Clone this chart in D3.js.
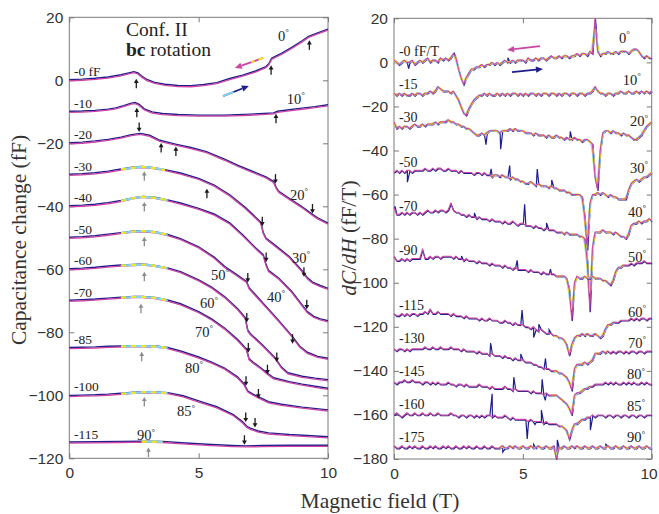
<!DOCTYPE html>
<html>
<head>
<meta charset="utf-8">
<title>Capacitance change and dC/dH, bc rotation</title>
<script src="https://cdn.jsdelivr.net/npm/d3@7"></script>
<style>
  body { margin: 0; background: #fff; }
  svg { display: block; }
  .tick text { font-family: "Liberation Sans", Arial, sans-serif; font-size: 15.5px; fill: #333; }
  .tick line { stroke: #7a7a7a; }
  .serif { font-family: "Liberation Serif", "Times New Roman", serif; fill: #222; }
</style>
</head>
<body>
<svg id="chart" width="659" height="514"></svg>
<script>
// ---- left panel: capacitance change (fF), [field T, C] ----
var angles = [0, 10, 20, 30, 40, 50, 60, 70, 80, 85, 90];
var leftOffsets = [0, -10, -20, -30, -40, -50, -60, -70, -85, -100, -115];
var leftOffsetText = ["-0 fF", "-10", "-20", "-30", "-40", "-50", "-60", "-70", "-85", "-100", "-115"];

var cap00 = [[0,0],[0.5,0.2],[1,0.5],[1.5,0.9],[2,1.6],[2.3,2.2],[2.5,2.6],[2.65,2.2],[2.8,1.2],[3,0.1],[3.3,-0.8],[3.7,-1.4],[4.2,-1.8],[4.7,-1.85],[5.2,-1.5],[5.7,-0.9],[6.2,0.4],[6.7,1.5],[7.2,2.8],[7.6,4.2],[7.72,5.2],[7.82,6.8],[8,7.6],[8.2,8.4],[8.6,10.3],[9,12.4],[9.25,13.8],[9.6,14.9],[10,16.1]];
var cap10 = [[0,-10],[0.5,-9.9],[1,-9.7],[1.5,-9.3],[1.8,-8.9],[2.1,-8.2],[2.4,-7.4],[2.55,-7.2],[2.7,-7.8],[2.9,-9.2],[3.2,-10.2],[3.6,-10.7],[4.2,-11.0],[5,-11.2],[6,-11.2],[7,-10.9],[7.9,-10.5],[8.05,-10.0],[8.5,-9.5],[9,-9.0],[9.5,-8.5],[10,-7.9]];
var cap20 = [[0,-20],[0.5,-19.8],[1,-19.4],[1.5,-18.9],[2,-18.2],[2.4,-17.4],[2.75,-17.0],[3.1,-17.6],[3.5,-19.2],[4.1,-20.4],[4.7,-21.5],[5.3,-22.8],[6,-25.2],[6.5,-27.1],[7,-28.8],[7.6,-30.8],[7.9,-32.3],[8.0,-34.2],[8.1,-35.4],[8.5,-37.6],[9,-40.3],[9.4,-42.7],[9.6,-43.8],[10,-45.5]];
var cap30 = [[0,-30],[0.5,-29.8],[1,-29.5],[1.5,-29],[2,-28.3],[2.5,-27.7],[2.8,-27.5],[3.2,-27.8],[3.7,-28.5],[4.3,-29.6],[5,-31.3],[5.6,-33.4],[6.2,-36.5],[6.8,-40.5],[7.2,-43.6],[7.4,-45.2],[7.5,-48.5],[7.6,-50.2],[8,-52.8],[8.5,-56.1],[9.0,-60.6],[9.2,-62.8],[9.4,-64.2],[9.7,-65.3],[10,-66.2]];
var cap40 = [[0,-40],[0.5,-39.8],[1,-39.5],[1.5,-39],[2,-38.3],[2.5,-37.4],[2.85,-37],[3.3,-37.3],[3.8,-38.1],[4.3,-39.1],[5,-40.8],[5.6,-42.6],[6.2,-45.4],[6.7,-49.2],[7.2,-53.3],[7.5,-55.6],[7.6,-58.5],[7.7,-60.5],[8.1,-63],[8.6,-67.2],[9.2,-73.6],[9.45,-75.1],[9.7,-75.9],[10,-76.5]];
var cap50 = [[0,-50],[0.5,-49.8],[1,-49.5],[1.5,-49],[2,-48.5],[2.5,-48],[2.85,-47.9],[3.3,-48.2],[3.8,-49.1],[4.3,-50.4],[5,-53],[5.6,-56.3],[6.0,-59.2],[6.5,-62],[6.85,-64],[6.95,-66],[7.5,-71],[8,-75.5],[8.6,-81.2],[8.9,-84.5],[9.2,-86.5],[9.6,-87.8],[10,-88.4]];
var cap60 = [[0,-60],[0.5,-59.8],[1,-59.5],[1.5,-59.1],[2,-58.8],[2.5,-58.6],[2.85,-58.5],[3.3,-58.9],[3.8,-59.7],[4.3,-60.9],[5,-63.5],[5.5,-65.8],[6,-68.8],[6.5,-72.6],[6.8,-75.5],[6.9,-79.5],[7.0,-80.6],[7.5,-84.4],[7.95,-88.2],[8.2,-91.2],[8.45,-93],[9,-94.1],[9.5,-94.7],[10,-95.2]];
var cap70 = [[0,-70],[0.5,-69.8],[1,-69.6],[1.5,-69.3],[2,-69],[2.5,-68.8],[2.85,-68.8],[3.3,-69.1],[3.8,-69.9],[4.3,-71.1],[5,-73.6],[5.5,-75.9],[6,-78.8],[6.5,-82.4],[6.85,-85.5],[6.95,-88.6],[7.1,-89.6],[7.4,-91.4],[7.7,-93.4],[7.9,-94.6],[8.5,-95.8],[9,-96.6],[9.5,-97.3],[10,-97.9]];
var cap80 = [[0,-85],[0.5,-84.9],[1,-84.8],[1.5,-84.6],[2,-84.5],[2.5,-84.4],[2.9,-84.4],[3.4,-84.6],[3.8,-85],[4.3,-86.1],[5,-88],[5.5,-89.6],[6,-91.5],[6.5,-94.3],[6.75,-96.5],[6.9,-98.8],[7.1,-99.8],[7.4,-101],[7.7,-102.2],[8.2,-103],[9,-103.9],[10,-104.8]];
var cap85 = [[0,-100.2],[0.5,-100.1],[1,-100],[1.5,-99.8],[2,-99.5],[2.5,-99.2],[2.9,-99],[3.4,-99.1],[3.8,-99.3],[4.4,-100.3],[5.06,-102.1],[5.7,-103.8],[6.34,-106.3],[6.7,-108.6],[6.86,-110],[7.0,-110.6],[7.3,-111.5],[7.7,-112.1],[8.5,-112.6],[9.2,-112.9],[10,-113.3]];
var cap90 = [[0,-115],[1,-114.9],[2,-114.8],[2.8,-114.7],[3.6,-114.8],[4.5,-115.3],[5.5,-115.8],[6.3,-116.1],[6.8,-116.2],[7.5,-116.1],[8.5,-116],[10,-116]];
var leftCurves = [cap00, cap10, cap20, cap30, cap40, cap50, cap60, cap70, cap80, cap85, cap90];
var leftFitRange = [null, null, null, [1.8,3.8], [1.8,3.8], [1.8,3.8], [1.8,3.8], [1.8,3.8], [1.8,3.8], [1.8,3.8], [2.2,4.1]];

// feature arrows [field, C at tip, direction]
var featureArrows = [[2.59,0.5,"up"],[7.8,4.8,"up"],[9.28,12.7,"up"],[2.61,-8.7,"up"],[7.99,-10.6,"up"],
  [2.7,-16.4,"down"],[3.55,-19.9,"up"],[4.12,-21,"up"],[7.97,-32.8,"down"],[9.4,-42.3,"down"],
  [5.32,-34.4,"up"],[7.46,-46.3,"down"],[9.07,-62.4,"down"],[7.61,-57.7,"down"],[9.18,-72.7,"down"],
  [6.9,-64.2,"down"],[8.63,-83.6,"down"],[6.86,-76.9,"down"],[8.02,-89.4,"down"],[6.92,-86.4,"down"],
  [7.66,-93.3,"down"],[6.83,-97,"down"],[7.31,-101,"down"],[6.82,-108.5,"down"],[7.18,-110.2,"down"],[6.77,-115.7,"down"]];
var peakArrows = [[2.9,-28.9],[2.9,-38.6],[2.9,-49.7],[2.9,-60.8],[2.77,-70.9],[2.8,-86.2],[2.9,-100.5],[3.06,-116.6]];
var leftAngleLabelAt = [[8.07,12.5],[8.41,-7.5],[8.53,-38],[8.61,-58],[7.64,-70.3],[5.48,-63.4],[5.05,-72.3],[4.86,-81.4],[4.47,-92.9],[4.16,-106.6],[2.62,-114.2]];

// ---- right panel: dC/dH (fF/T), sampled every 0.1 T ----
var rightField = d3.range(0, 101).map(function(i) { return i / 10; });
var rightOffsets = [0, -15, -30, -50, -70, -90, -115, -130, -145, -160, -175];
var rightOffsetText = ["-0 fF/T", "-15", "-30", "-50", "-70", "-90", "-115", "-130", "-145", "-160", "-175"];

var dcdh00 = [1,0,-1,0,1,0,0,1,-1,0, 1,0,1,2,0,1,1,0,2,1, 2,1,2,4,2,-3,-7,-10,-7,-5, -3,-3,-2,-2,-1,-2,-1,-1,0,-1,
  0,-1,0,1,0,0,1,0,1,1, 1,0,2,1,1,2,1,2,2,1, 2,3,2,2,3,2,3,3,2,3, 3,4,3,4,4,3,5,4,20,5,
  3,4,4,5,4,4,5,4,5,5, 5,4,5,6,6,5,3,2,3,2, 2];
var dcdh10 = [-14,-15,-14,-15,-14,-15,-15,-14,-15,-14, -14,-15,-14,-14,-13,-14,-13,-11,-12,-13, -13,-13,-14,-13,-15,-17,-20,-23,-24,-21,
  -19,-17,-16,-15,-15,-14,-15,-14,-15,-15, -14,-15,-14,-15,-14,-15,-14,-14,-15,-14, -15,-14,-15,-14,-14,-15,-14,-15,-14,-14,
  -15,-14,-14,-15,-14,-15,-14,-14,-15,-14, -14,-15,-14,-14,-15,-14,-14,-13,-11,-13, -14,-14,-15,-14,-14,-15,-14,-14,-13,-14,
  -14,-13,-14,-14,-13,-14,-13,-14,-13,-14, -13];
var dcdh20 = [-27,-30,-29,-30,-29,-29,-30,-29,-28,-29, -29,-28,-29,-28,-28,-28,-27,-28,-27,-27, -27,-26,-27,-27,-28,-28,-29,-29,-30,-30,
  -31,-32,-33,-33,-32,-33,-32,-31,-31,-31, -31,-32,-31,-31,-31,-30,-31,-30,-31,-31, -31,-32,-32,-32,-33,-32,-33,-33,-33,-34,
  -33,-34,-34,-33,-34,-34,-35,-34,-35,-35, -34,-35,-35,-36,-35,-35,-36,-37,-52,-58, -40,-32,-31,-31,-32,-31,-32,-32,-33,-32,
  -33,-33,-34,-35,-35,-34,-33,-31,-29,-28, -27];
var dcdh30 = [-50,-49,-50,-49,-50,-49,-49,-50,-49,-49, -49,-49,-48,-49,-49,-48,-49,-48,-48,-49, -49,-48,-49,-49,-49,-50,-49,-50,-50,-50,
  -50,-51,-50,-50,-51,-50,-51,-51,-52,-51, -51,-52,-51,-52,-52,-53,-52,-53,-53,-54, -54,-55,-55,-54,-55,-56,-55,-56,-56,-56,
  -57,-56,-57,-57,-58,-58,-58,-59,-59,-60, -60,-60,-60,-61,-70,-85,-64,-60,-60,-59, -60,-59,-60,-61,-60,-61,-61,-62,-62,-62,
  -62,-58,-55,-54,-53,-54,-53,-52,-52,-51, -50];
var dcdh40 = [-66,-69,-69,-68,-69,-68,-69,-68,-68,-69, -68,-69,-68,-67,-68,-68,-67,-68,-67,-67, -68,-67,-64,-67,-68,-68,-69,-69,-70,-69,
  -70,-70,-71,-70,-71,-71,-71,-72,-71,-72, -72,-72,-73,-72,-73,-73,-72,-73,-74,-73, -73,-74,-74,-74,-75,-74,-75,-75,-76,-75,
  -76,-76,-76,-77,-77,-77,-78,-77,-78,-78, -78,-78,-79,-79,-80,-90,-113,-84,-77,-77, -77,-76,-77,-77,-77,-78,-77,-78,-79,-79,
  -80,-78,-74,-73,-73,-72,-73,-72,-72,-71, -72];
var dcdh50 = [-88,-90,-90,-89,-90,-89,-90,-89,-89,-89, -89,-85,-89,-89,-88,-89,-88,-88,-89,-88, -88,-88,-88,-89,-88,-89,-89,-90,-89,-90,
  -90,-90,-91,-90,-91,-91,-91,-92,-91,-92, -92,-92,-93,-92,-93,-93,-94,-93,-94,-94, -94,-94,-95,-94,-95,-95,-95,-96,-95,-96,
  -96,-96,-96,-97,-97,-97,-97,-98,-103,-117, -100,-97,-98,-98,-97,-98,-98,-97,-98,-98, -98,-99,-99,-100,-101,-99,-95,-93,-93,-92,
  -92,-92,-91,-92,-91,-91,-91,-90,-91,-91, -91];
var dcdh60 = [-114,-115,-115,-114,-115,-114,-115,-114,-114,-115, -114,-114,-113,-114,-112,-114,-114,-113,-114,-114,
  -114,-114,-115,-114,-115,-115,-115,-116,-115,-116, -116,-116,-116,-117,-116,-117,-117,-116,-117,-117,
  -117,-118,-118,-117,-118,-118,-119,-118,-119,-119, -119,-120,-120,-121,-120,-121,-122,-121,-122,-123,
  -123,-123,-124,-124,-125,-125,-126,-128,-133,-128, -125,-124,-124,-123,-124,-123,-124,-124,-123,-124,
  -125,-124,-121,-119,-119,-118,-118,-118,-117,-117, -117,-117,-116,-117,-116,-117,-116,-116,-117,-116, -116];
var dcdh70 = [-130,-131,-130,-130,-131,-130,-131,-130,-130,-130, -130,-130,-129,-130,-130,-129,-130,-130,-129,-130,
  -130,-130,-129,-130,-130,-130,-131,-130,-131,-131, -131,-131,-132,-131,-132,-132,-132,-133,-132,-133,
  -133,-133,-134,-133,-134,-134,-135,-134,-135,-135, -135,-136,-136,-136,-137,-137,-138,-138,-139,-139,
  -139,-140,-140,-140,-141,-141,-142,-143,-145,-149, -139,-137,-137,-137,-136,-137,-136,-135,-132,-132,
  -132,-131,-132,-131,-132,-131,-132,-131,-131,-132, -131,-132,-131,-131,-132,-131,-131,-132,-131,-131, -131];
var dcdh80 = [-145,-146,-145,-145,-144,-145,-145,-144,-145,-145, -145,-146,-145,-145,-146,-145,-146,-145,-146,-146,
  -146,-145,-146,-146,-147,-146,-146,-147,-146,-147, -147,-147,-147,-146,-147,-147,-147,-148,-147,-148,
  -148,-148,-148,-147,-148,-148,-149,-148,-149,-149, -149,-149,-149,-150,-149,-150,-150,-150,-151,-150,
  -151,-151,-151,-151,-152,-153,-154,-155,-157,-160, -151,-150,-150,-149,-148,-148,-147,-147,-146,-146,
  -146,-146,-145,-146,-145,-146,-145,-146,-146,-145, -146,-145,-146,-145,-146,-146,-145,-146,-145,-146, -146];
var dcdh85 = [-160,-159,-160,-161,-160,-159,-160,-160,-159,-160, -160,-159,-160,-160,-159,-160,-160,-159,-160,-160,
  -160,-160,-159,-160,-160,-161,-160,-160,-161,-160, -160,-161,-160,-161,-160,-161,-160,-160,-161,-160,
  -161,-161,-161,-160,-161,-162,-161,-162,-162,-162, -162,-162,-163,-162,-163,-163,-163,-163,-164,-163,
  -164,-164,-164,-164,-165,-165,-166,-167,-171,-167, -164,-164,-163,-162,-162,-161,-161,-160,-161,-160,
  -160,-160,-161,-160,-160,-161,-160,-160,-161,-160, -160,-161,-160,-160,-161,-160,-160,-161,-160,-160, -160];
var dcdh90 = [-174,-175,-175,-174,-175,-175,-174,-175,-174,-175, -175,-174,-175,-175,-174,-175,-174,-175,-175,-174,
  -175,-174,-175,-175,-174,-175,-175,-174,-175,-174, -175,-175,-174,-175,-175,-174,-175,-175,-174,-175,
  -175,-175,-174,-175,-175,-174,-175,-174,-175,-175, -174,-175,-175,-174,-175,-175,-174,-175,-175,-174,
  -175,-175,-174,-180,-175,-175,-174,-175,-175,-174, -175,-174,-175,-175,-174,-175,-175,-174,-175,-175,
  -174,-175,-175,-174,-175,-175,-174,-175,-175,-174, -175,-175,-174,-175,-175,-174,-175,-175,-174,-175, -175];
var rightCurves = [dcdh00, dcdh10, dcdh20, dcdh30, dcdh40, dcdh50, dcdh60, dcdh70, dcdh80, dcdh85, dcdh90];

// spikes seen only on the up sweep (blue), [field, dC/dH]
var upSpikes = [
  [[0.55,-2.5],[2.32,4.5],[4.4,2.5]],
  [],
  [[3.55,-37],[4.12,-39],[6.82,-31]],
  [[0.5,-54],[3.75,-48],[4.47,-46.5],[5.54,-48],[6.1,-53]],
  [[0.02,-65],[3.1,-68],[5.05,-64],[5.9,-72.5]],
  [[2.6,-87.5],[4.76,-89.5],[6.05,-93.5]],
  [[4.95,-112],[5.4,-124.5],[5.6,-118.5],[6.0,-121]],
  [[3.73,-127],[4.9,-132],[5.86,-134]],
  [[4.63,-142.5],[5.73,-143.5],[5.85,-153]],
  [[3.79,-150],[5.15,-170.5],[5.45,-164],[5.7,-157.5],[7.6,-166.5]],
  [[4.2,-176.5],[5.4,-173],[6.32,-171],[8.2,-173]]
];
var rightFitRange = [[0,9.9],[0,10],[0,10],[3.8,10],[6.5,10],[6.3,8.9],[6.2,8.6],[6.2,8.3],[6.1,7.6],[6.5,7.5],[4.1,10]];
var rightAngleLabelAt = [[8.73,8.8],[8.88,-10.2],[9.16,-28.9],[9.16,-50.2],[9.08,-70],[9.08,-90.4],[9.08,-115.4],[9.08,-129.6],[9.04,-143.7],[9.04,-158.2],[9.04,-172.3]];

var leftYTicks = [20, 0, -20, -40, -60, -80, -100, -120];
var rightYTicks = [20, 0, -20, -40, -60, -80, -100, -120, -140, -160, -180];
var xTicks = [0, 5, 10];

var BLUE = "#1d1d8e", MAGENTA = "#cc45a2", CYAN = "#86d4f2", YELLOW = "#f4e41a";

var svg = d3.select("#chart");

var xL = d3.scaleLinear().domain([0, 10]).range([69.3, 328]);
var yL = d3.scaleLinear().domain([-120, 20]).range([458.3, 17.3]);
var xR = d3.scaleLinear().domain([0, 10]).range([394, 651.7]);
var yR = d3.scaleLinear().domain([-180, 20]).range([459, 18.3]);

function drawFrame(x, y, yTicks) {
  var g = svg.append("g");
  var x0 = x.range()[0], x1 = x.range()[1], y0 = y.range()[1], y1 = y.range()[0];
  var bottom = g.append("g").attr("transform", "translate(0," + y1 + ")")
    .call(d3.axisBottom(x).tickValues(xTicks).tickSizeInner(-5).tickSizeOuter(0).tickPadding(9));
  // keep the last label inside the window
  bottom.selectAll(".tick text").filter(function(d) { return d === 10; }).attr("dx", x1 > 600 ? "-0.2em" : null);
  g.append("g").attr("transform", "translate(0," + y0 + ")")
    .call(d3.axisTop(x).tickValues(xTicks).tickSizeInner(-5).tickSizeOuter(0).tickFormat(""));
  g.append("g").attr("transform", "translate(" + x0 + ",0)")
    .call(d3.axisLeft(y).tickValues(yTicks).tickSizeInner(-5).tickSizeOuter(0).tickPadding(6));
  g.append("g").attr("transform", "translate(" + x1 + ",0)")
    .call(d3.axisRight(y).tickValues(yTicks).tickSizeInner(-5).tickSizeOuter(0).tickFormat(""));
  g.selectAll(".domain").remove();
  g.append("rect").attr("x", x0).attr("y", y0).attr("width", x1 - x0).attr("height", y1 - y0)
    .attr("fill", "none").attr("stroke", "#7a7a7a").attr("stroke-width", 1);
}

function fitPath(g, pts, width, curve) {
  var line = d3.line().x(function(d) { return d.x; }).y(function(d) { return d.y; }).curve(curve);
  g.append("path").attr("d", line(pts)).attr("fill", "none").attr("stroke", CYAN).attr("stroke-width", width);
  g.append("path").attr("d", line(pts)).attr("fill", "none").attr("stroke", YELLOW)
    .attr("stroke-width", width).attr("stroke-dasharray", "5,5");
}

function angleLabel(g, px, py, a, size) {
  var t = g.append("text").attr("class", "serif").attr("x", px).attr("y", py).style("font-size", size + "px");
  t.append("tspan").text(a);
  t.append("tspan").text("\u00b0").style("font-size", (size * 0.62) + "px").attr("dy", -size * 0.38);
}

function smallArrow(g, cx, cy, dir, color) {
  var s = dir === "up" ? 1 : -1;
  g.append("line").attr("x1", cx).attr("y1", cy + s * 3).attr("x2", cx).attr("y2", cy + s * 9.5)
    .attr("stroke", color).attr("stroke-width", 1.3);
  g.append("path").attr("d", "M" + cx + "," + cy + "L" + (cx - 2.4) + "," + (cy + s * 4.2) + "L" + (cx + 2.4) + "," + (cy + s * 4.2) + "Z")
    .attr("fill", color);
}

function sweepArrow(g, from, to, bodyColor, tailColor, dashed) {
  var dx = to[0] - from[0], dy = to[1] - from[1], len = Math.sqrt(dx * dx + dy * dy);
  var ux = dx / len, uy = dy / len, hl = 7, hw = 3.2;
  var bx = to[0] - ux * hl, by = to[1] - uy * hl;
  g.append("line").attr("x1", from[0]).attr("y1", from[1]).attr("x2", bx).attr("y2", by)
    .attr("stroke", bodyColor).attr("stroke-width", 1.8);
  if (tailColor) {
    var mx = from[0] + (bx - from[0]) * 0.55, my = from[1] + (by - from[1]) * 0.55;
    g.append("line").attr("x1", from[0]).attr("y1", from[1]).attr("x2", mx).attr("y2", my)
      .attr("stroke", tailColor).attr("stroke-width", 1.8).attr("stroke-dasharray", dashed ? "5,4" : null);
  }
  g.append("path").attr("d", "M" + to[0] + "," + to[1] + "L" + (bx - uy * hw) + "," + (by + ux * hw) + "L" + (bx + uy * hw) + "," + (by - ux * hw) + "Z")
    .attr("fill", bodyColor);
}

// ---------- left panel ----------
drawFrame(xL, yL, leftYTicks);
var gl = svg.append("g");
var lineL = d3.line().x(function(d) { return xL(d[0]); }).y(function(d) { return yL(d[1]); });

leftCurves.forEach(function(c, i) {
  gl.append("path").attr("d", lineL(c)).attr("fill", "none").attr("stroke", BLUE).attr("stroke-width", 1.4)
    .attr("transform", "translate(0,-0.5)");
  gl.append("path").attr("d", lineL(c)).attr("fill", "none").attr("stroke", MAGENTA).attr("stroke-width", 1.3)
    .attr("transform", "translate(0,0.6)");
  var r = leftFitRange[i];
  if (r) {
    var pts = c.filter(function(d) { return d[0] >= r[0] && d[0] <= r[1]; })
      .map(function(d) { return {x: xL(d[0]), y: yL(d[1])}; });
    fitPath(gl, pts, 2.2, d3.curveMonotoneX);
  }
  gl.append("text").attr("class", "serif").attr("x", xL(0.18)).attr("y", yL(leftOffsets[i]) - 4)
    .style("font-size", "13.5px").text(leftOffsetText[i]);
  angleLabel(gl, xL(leftAngleLabelAt[i][0]), yL(leftAngleLabelAt[i][1]), angles[i], 14.5);
});

featureArrows.forEach(function(a) { smallArrow(gl, xL(a[0]), yL(a[1]), a[2], "#1a1a1a"); });
peakArrows.forEach(function(a) { smallArrow(gl, xL(a[0]), yL(a[1]), "up", "#8c8c8c"); });

sweepArrow(gl, [xL(7.49), yL(7.1)], [xL(6.4), yL(3.9)], MAGENTA, YELLOW, true);
sweepArrow(gl, [xL(5.94), yL(-5.0)], [xL(6.94), yL(-1.8)], BLUE, CYAN, false);

gl.append("text").attr("class", "serif").attr("x", xL(2.19)).attr("y", yL(14.1)).style("font-size", "19.5px")
  .text("Conf. II");
var rot = gl.append("text").attr("class", "serif").attr("x", xL(2.19)).attr("y", yL(7.8)).style("font-size", "19.5px");
rot.append("tspan").style("font-weight", "bold").text("bc");
rot.append("tspan").text(" rotation");

// ---------- right panel ----------
drawFrame(xR, yR, rightYTicks);
var gr = svg.append("g");
var lineR = d3.line().x(function(d) { return xR(d[0]); }).y(function(d) { return yR(d[1]); });

rightCurves.forEach(function(vals, i) {
  var pts = rightField.map(function(h, k) { return [h, vals[k]]; });
  var blue = pts.concat(upSpikes[i]).sort(function(a, b) { return a[0] - b[0]; });
  gr.append("path").attr("d", lineR(blue)).attr("fill", "none").attr("stroke", BLUE).attr("stroke-width", 1.2)
    .attr("transform", "translate(0.5,0.8)");
  var r = rightFitRange[i];
  var fit = pts.filter(function(d) { return d[0] >= r[0] && d[0] <= r[1]; })
    .map(function(d) { return {x: xR(d[0]), y: yR(d[1])}; });
  fitPath(gr, fit, 2.2, d3.curveBasis);
  gr.append("path").attr("d", lineR(pts)).attr("fill", "none").attr("stroke", MAGENTA).attr("stroke-width", 1.1);
  gr.append("text").attr("class", "serif").attr("x", xR(0.19)).attr("y", yR(rightOffsets[i]) - 6)
    .style("font-size", "14px").text(rightOffsetText[i]);
  angleLabel(gr, xR(rightAngleLabelAt[i][0]), yR(rightAngleLabelAt[i][1]), angles[i], 14.5);
});

sweepArrow(gr, [xR(5.67), yR(7.4)], [xR(4.39), yR(5.6)], MAGENTA, null, false);
sweepArrow(gr, [xR(4.58), yR(-4.4)], [xR(5.78), yR(-3.0)], BLUE, null, false);

// ---------- axis titles ----------
svg.append("text").attr("class", "serif").attr("transform", "translate(26,240) rotate(-90)")
  .attr("text-anchor", "middle").style("font-size", "21.5px").style("fill", "#333").text("Capacitance change (fF)");

var yt = svg.append("text").attr("class", "serif").attr("transform", "translate(356,238) rotate(-90)")
  .attr("text-anchor", "middle").style("font-size", "21.5px").style("fill", "#333");
yt.append("tspan").style("font-style", "italic").text("dC");
yt.append("tspan").text("/");
yt.append("tspan").style("font-style", "italic").text("dH");
yt.append("tspan").text(" (fF/T)");

svg.append("text").attr("class", "serif").attr("x", 380).attr("y", 508).attr("text-anchor", "middle")
  .style("font-size", "21.5px").style("fill", "#333").text("Magnetic field (T)");
</script>
</body>
</html>
